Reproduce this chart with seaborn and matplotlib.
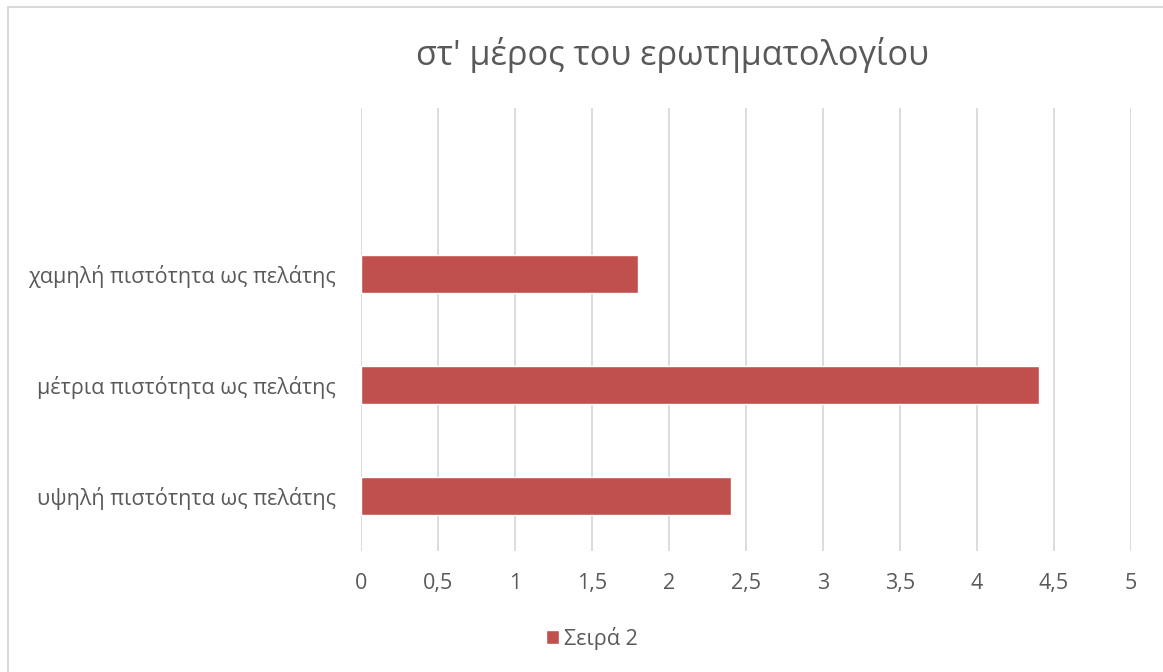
import matplotlib
matplotlib.use("Agg")
import matplotlib.pyplot as plt
import seaborn as sns
import pandas as pd
from matplotlib.patches import Rectangle

categories = ["χαμηλή πιστότητα ως πελάτης", "μέτρια πιστότητα ως πελάτης", "υψηλή πιστότητα ως πελάτης"]
values = [1.8, 4.4, 2.4]
series_name = "Σειρά 2"
x_ticks = [0, 0.5, 1, 1.5, 2, 2.5, 3, 3.5, 4, 4.5, 5]
x_tick_labels = ["0", "0,5", "1", "1,5", "2", "2,5", "3", "3,5", "4", "4,5", "5"]
title = "στ' μέρος του ερωτηματολογίου"

sns.set_theme(style="white")
plt.rcParams["font.family"] = ["Open Sans", "DejaVu Sans"]

text_color = "#595959"
bar_color = "#C0504D"
grid_color = "#D9D9D9"

W, H = 1163, 672
fig = plt.figure(figsize=(W / 100, H / 100), dpi=100)
ax = fig.add_axes([361 / W, 1 - 551 / H, (1131 - 361) / W, (551 - 108) / H])

df = pd.DataFrame({"category": categories, "value": values, "series": series_name})
sns.barplot(data=df, x="value", y="category", hue="series", palette=[bar_color],
            orient="h", width=0.345, ax=ax, legend=False, saturation=1)

ax.set_xlim(0, 5)
# one empty category slot above the first bar
ax.set_ylim(2.5, -1.5)
ax.set_xticks(x_ticks)
ax.set_xticklabels(x_tick_labels)
ax.tick_params(axis="both", length=0, labelsize=15.5, colors=text_color)
ax.tick_params(axis="x", pad=16)
ax.tick_params(axis="y", pad=18)
ax.set_xlabel("")
ax.set_ylabel("")
ax.xaxis.grid(True, color=grid_color, linewidth=1.3)
ax.set_axisbelow(True)
for s in ax.spines.values():
    s.set_visible(False)

fig.text((418 + 927) / 2 / W, 1 - 55 / H, title, ha="center", va="center",
         fontsize=24.7, color=text_color)

# legend entry below the axis
handle = Rectangle((0, 0), 1, 1, facecolor=bar_color)
fig.legend([handle], [series_name], loc="center", bbox_to_anchor=(592 / W, 1 - 638 / H),
           frameon=False, fontsize=15.5, labelcolor=text_color, handlelength=0.6,
           handleheight=0.6, handletextpad=0.25)

# chart frame
fig.patches.append(Rectangle((8 / W, -0.01), 1.02, 1 - 7 / H + 0.01, transform=fig.transFigure,
                             fill=False, edgecolor="#D9D9D9", linewidth=1.5))

fig.savefig("out.png", dpi=100, facecolor="white")
